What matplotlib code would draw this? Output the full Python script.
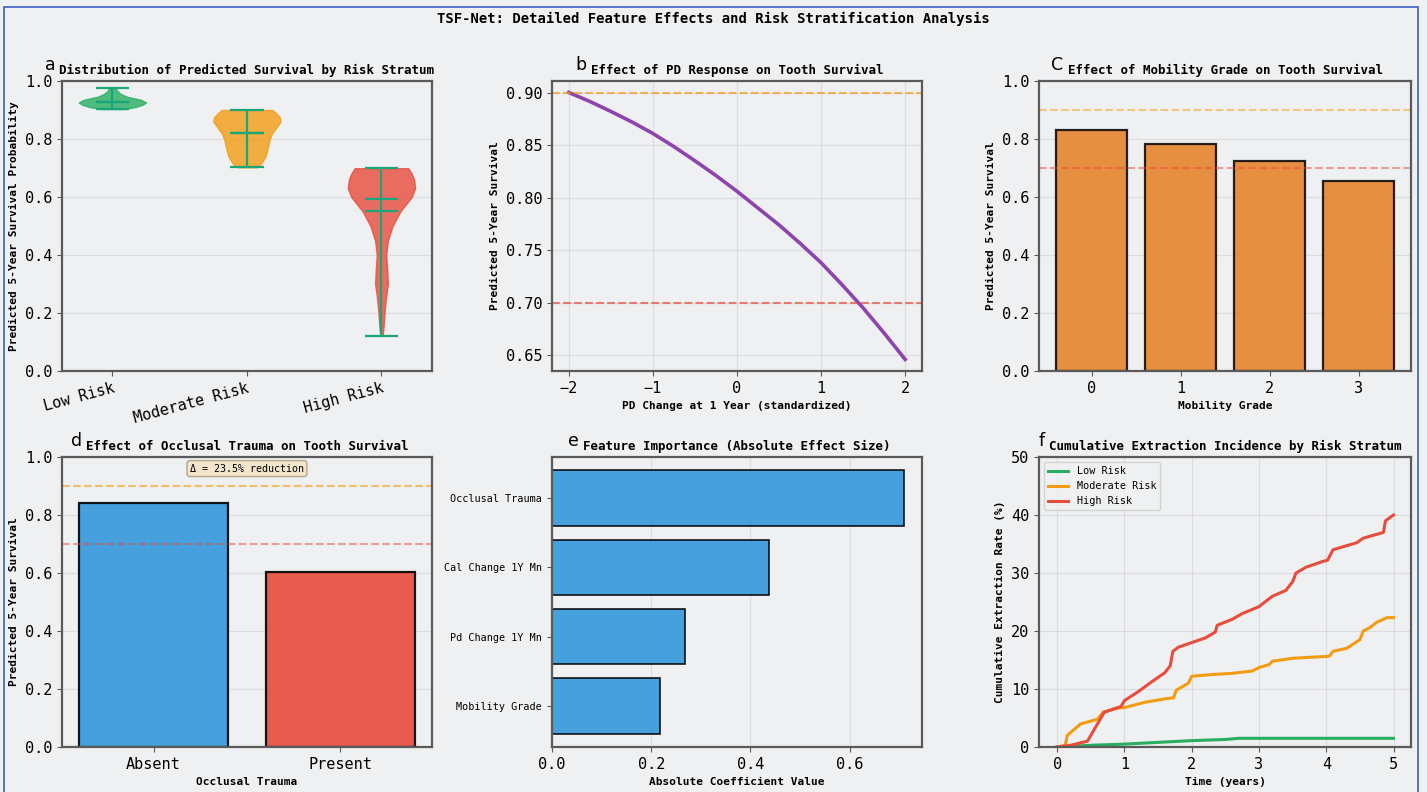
import matplotlib.pyplot as plt
from matplotlib.patches import Rectangle

plt.rcParams['font.family'] = ['DejaVu Sans Mono', 'DejaVu Sans']

BG = '#eef0f2'

# ---- data ----
strata = ['Low Risk', 'Moderate Risk', 'High Risk']
# violin outlines: y positions and relative width
low_y = [0.903, 0.91, 0.918, 0.926, 0.935, 0.945, 0.955, 0.965, 0.974]
low_w = [0.35, 0.68, 0.9, 1.0, 0.85, 0.45, 0.25, 0.15, 0.1]
mod_y = [0.702, 0.71, 0.72, 0.74, 0.76, 0.78, 0.80, 0.82, 0.84, 0.86, 0.875, 0.89, 0.90]
mod_w = [0.28, 0.38, 0.45, 0.55, 0.6, 0.64, 0.68, 0.75, 0.88, 1.0, 0.98, 0.85, 0.75]
high_y = [0.121, 0.15, 0.2, 0.25, 0.3, 0.35, 0.4, 0.45, 0.5, 0.55, 0.6, 0.63, 0.66, 0.68, 0.699]
high_w = [0.03, 0.06, 0.09, 0.13, 0.19, 0.17, 0.14, 0.19, 0.33, 0.56, 0.9, 1.0, 0.97, 0.9, 0.8]
v_mean = [0.926, 0.82, 0.553]
v_median = [0.926, 0.82, 0.594]
v_min = [0.903, 0.702, 0.121]
v_max = [0.974, 0.90, 0.699]

pd_x = [-2, -1.75, -1.5, -1.25, -1, -0.75, -0.5, -0.25, 0, 0.25, 0.5, 0.75, 1, 1.25, 1.5, 1.75, 2]
pd_surv = [0.900, 0.8915, 0.882, 0.872, 0.861, 0.8485, 0.835, 0.821, 0.806,
           0.790, 0.774, 0.7565, 0.738, 0.717, 0.695, 0.671, 0.646]

mob_grade = [0, 1, 2, 3]
mob_surv = [0.83, 0.782, 0.725, 0.656]

occ_labels = ['Absent', 'Present']
occ_surv = [0.84, 0.605]

feat_names = ['Mobility Grade', 'Pd Change 1Y Mn', 'Cal Change 1Y Mn', 'Occlusal Trauma']
feat_imp = [0.218, 0.268, 0.437, 0.71]

low_t = [0, 0.5, 1.0, 1.5, 2.0, 2.5, 2.7, 5.0]
low_c = [0, 0.3, 0.5, 0.8, 1.1, 1.3, 1.5, 1.5]
mod_t = [0, 0.12, 0.15, 0.25, 0.35, 0.45, 0.6, 0.68, 0.9, 1.0, 1.3, 1.6, 1.73, 1.77, 1.95,
         2.0, 2.3, 2.6, 2.9, 3.0, 3.15, 3.2, 3.5, 3.8, 4.0, 4.05, 4.1, 4.3, 4.5, 4.55,
         4.65, 4.75, 4.9, 5.0]
mod_c = [0, 0.3, 2.0, 3.0, 4.0, 4.3, 4.8, 6.0, 6.7, 6.8, 7.7, 8.3, 8.5, 9.8, 11.0,
         12.2, 12.5, 12.7, 13.1, 13.7, 14.2, 14.8, 15.3, 15.5, 15.6, 15.7, 16.5, 17.0, 18.5, 20.0,
         20.6, 21.5, 22.3, 22.3]
high_t = [0, 0.2, 0.45, 0.55, 0.7, 0.95, 1.0, 1.2, 1.4, 1.6, 1.68, 1.72, 1.8, 2.0, 2.2,
          2.35, 2.38, 2.6, 2.75, 3.0, 3.2, 3.4, 3.5, 3.55, 3.7, 3.95, 4.02, 4.1, 4.3, 4.45,
          4.55, 4.85, 4.88, 5.0]
high_c = [0, 0.3, 1.0, 3.0, 6.0, 7.0, 8.0, 9.5, 11.2, 12.8, 14.0, 16.5, 17.2, 18.0, 18.8,
          19.8, 21.0, 22.0, 23.0, 24.2, 26.0, 27.0, 28.5, 30.0, 31.0, 32.0, 32.2, 34.0, 34.7, 35.2,
          36.0, 37.0, 39.0, 40.0]

GREEN, ORANGE, RED, BLUE = '#27ae60', '#f39c12', '#e74c3c', '#3498db'

fig = plt.figure(figsize=(14.27, 7.92), dpi=100, facecolor=BG)
lefts = [0.0434, 0.3868, 0.7281]
widths = [0.2593, 0.2593, 0.2607]
bottoms = [0.5316, 0.0568]
H = 0.3662
axs = []
for b in bottoms:
    for l, w in zip(lefts, widths):
        ax = fig.add_axes([l, b, w, H], facecolor=BG)
        for s in ax.spines.values():
            s.set_color('#5a5a5a')
            s.set_linewidth(1.6)
        ax.tick_params(labelsize=11, color='#5a5a5a')
        axs.append(ax)
ax_a, ax_b, ax_c, ax_d, ax_e, ax_f = axs

def title(ax, t):
    ax.set_title(t, fontsize=9, fontweight='bold', pad=5)

def lab(ax, x=None, y=None):
    if x:
        ax.set_xlabel(x, fontsize=8, fontweight='bold')
    if y:
        ax.set_ylabel(y, fontsize=8, fontweight='bold')

# a: violins
stats = []
for cy, cw, mn, md, lo, hi in zip([low_y, mod_y, high_y], [low_w, mod_w, high_w],
                                  v_mean, v_median, v_min, v_max):
    stats.append(dict(coords=cy, vals=cw, mean=mn, median=md, min=lo, max=hi))
vp = ax_a.violin(stats, positions=[1, 2, 3], widths=0.5, showmeans=True, showmedians=True)
for body, c in zip(vp['bodies'], [GREEN, ORANGE, RED]):
    body.set_facecolor(c)
    body.set_edgecolor(c)
    body.set_alpha(0.8)
for k in ['cmeans', 'cmedians', 'cmins', 'cmaxes', 'cbars']:
    vp[k].set_color('#1aa57a')
    vp[k].set_linewidth(1.6)
ax_a.set_xlim(0.625, 3.375)
ax_a.set_ylim(0, 1.0)
ax_a.set_xticks([1, 2, 3])
ax_a.set_xticklabels(strata, rotation=15, ha='right', rotation_mode='anchor')
ax_a.grid(axis='y', alpha=0.3)
ax_a.set_axisbelow(True)
title(ax_a, 'Distribution of Predicted Survival by Risk Stratum')
lab(ax_a, y='Predicted 5-Year Survival Probability')

# b: PD change curve
ax_b.plot(pd_x, pd_surv, color='#8e44ad', lw=2.6)
ax_b.axhline(0.9, color=ORANGE, ls='--', lw=1.5, alpha=0.7)
ax_b.axhline(0.7, color=RED, ls='--', lw=1.5, alpha=0.7)
ax_b.set_xlim(-2.2, 2.2)
ax_b.set_ylim(0.635, 0.911)
ax_b.set_xticks([-2, -1, 0, 1, 2])
ax_b.set_yticks([0.65, 0.70, 0.75, 0.80, 0.85, 0.90])
ax_b.grid(alpha=0.3)
title(ax_b, 'Effect of PD Response on Tooth Survival')
lab(ax_b, 'PD Change at 1 Year (standardized)', 'Predicted 5-Year Survival')

# c: mobility grade
ax_c.bar(mob_grade, mob_surv, width=0.8, color='#e67e22', alpha=0.85,
         edgecolor='black', linewidth=1.6)
ax_c.axhline(0.9, color=ORANGE, ls='--', lw=1.5, alpha=0.5)
ax_c.axhline(0.7, color=RED, ls='--', lw=1.5, alpha=0.5)
ax_c.set_ylim(0, 1.0)
ax_c.set_xticks(mob_grade)
ax_c.grid(axis='y', alpha=0.3)
ax_c.set_axisbelow(True)
title(ax_c, 'Effect of Mobility Grade on Tooth Survival')
lab(ax_c, 'Mobility Grade', 'Predicted 5-Year Survival')

# d: occlusal trauma
ax_d.bar(occ_labels, occ_surv, width=0.8, color=[BLUE, RED], alpha=0.9,
         edgecolor='black', linewidth=1.6)
ax_d.axhline(0.9, color=ORANGE, ls='--', lw=1.5, alpha=0.6)
ax_d.axhline(0.7, color=RED, ls='--', lw=1.5, alpha=0.5)
ax_d.set_ylim(0, 1.0)
ax_d.grid(axis='y', alpha=0.3)
ax_d.set_axisbelow(True)
red_pct = (occ_surv[0] - occ_surv[1]) * 100
ax_d.text(0.5, 0.96, f'Δ = {red_pct:.1f}% reduction', transform=ax_d.transAxes,
          ha='center', va='center', fontsize=7.2,
          bbox=dict(boxstyle='round,pad=0.3', facecolor='wheat', edgecolor='#8a7a5a', alpha=0.6))
title(ax_d, 'Effect of Occlusal Trauma on Tooth Survival')
lab(ax_d, 'Occlusal Trauma', 'Predicted 5-Year Survival')

# e: feature importance
ax_e.barh(feat_names, feat_imp, height=0.8, color=BLUE, alpha=0.9,
          edgecolor='black', linewidth=1.2)
ax_e.set_xlim(0, 0.7455)
ax_e.set_xticks([0.0, 0.2, 0.4, 0.6])
ax_e.tick_params(axis='y', labelsize=7.3)
ax_e.grid(axis='x', alpha=0.3)
ax_e.set_axisbelow(True)
title(ax_e, 'Feature Importance (Absolute Effect Size)')
lab(ax_e, 'Absolute Coefficient Value')

# f: cumulative incidence
ax_f.plot(low_t, low_c, color=GREEN, lw=2.2, label='Low Risk')
ax_f.plot(mod_t, mod_c, color=ORANGE, lw=2.2, label='Moderate Risk')
ax_f.plot(high_t, high_c, color=RED, lw=2.2, label='High Risk')
ax_f.set_xlim(-0.27, 5.26)
ax_f.set_ylim(0, 50)
ax_f.set_xticks([0, 1, 2, 3, 4, 5])
ax_f.grid(alpha=0.3)
ax_f.legend(loc='upper left', fontsize=7.3, framealpha=0.8, facecolor=BG, edgecolor='#cccccc')
title(ax_f, 'Cumulative Extraction Incidence by Risk Stratum')
lab(ax_f, 'Time (years)', 'Cumulative Extraction Rate (%)')

fig.suptitle('TSF-Net: Detailed Feature Effects and Risk Stratification Analysis',
             fontsize=10, fontweight='bold', y=0.985)

# panel letters next to the titles
fig.canvas.draw()
renderer = fig.canvas.get_renderer()
inv = fig.transFigure.inverted()
for ax, letter in zip(axs, ['a', 'b', 'C', 'd', 'e', 'f']):
    bb = ax.title.get_window_extent(renderer)
    x, y = inv.transform((bb.x0 - 4, bb.y0 + 3))
    fig.text(x, y, letter, fontsize=12.5, family='DejaVu Sans', ha='right', va='bottom')

fig.patches.append(Rectangle((0.003, -0.01), 0.991, 1.001, transform=fig.transFigure,
                             fill=False, edgecolor='#3a5fbf', lw=1.2))

fig.savefig('out.png', dpi=100, facecolor=BG)
